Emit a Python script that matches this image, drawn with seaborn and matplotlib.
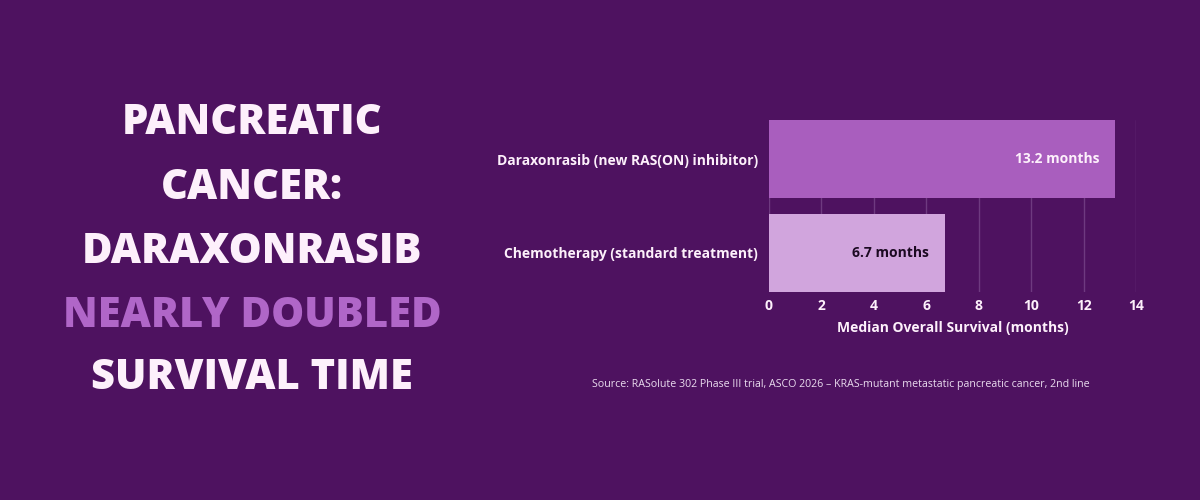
import matplotlib
matplotlib.use('Agg')
import matplotlib.pyplot as plt
import seaborn as sns
import pandas as pd

# data
treatments = ['Daraxonrasib (new RAS(ON) inhibitor)', 'Chemotherapy (standard treatment)']
survival_months = [13.2, 6.7]
value_labels = ['13.2 months', '6.7 months']
x_ticks = [0, 2, 4, 6, 8, 10, 12, 14]

bg = '#4e1260'
bar_colors = ['#a95ebe', '#d1a5dd']
label_colors = ['#fdf0fb', '#1c0a22']

sns.set_style('white')
plt.rcParams['font.family'] = ['Open Sans', 'DejaVu Sans']

df = pd.DataFrame({'treatment': treatments, 'months': survival_months})

fig = plt.figure(figsize=(12, 5), dpi=100, facecolor=bg)
ax = fig.add_axes([0.6408, 0.416, 0.3059, 0.344])
ax.set_facecolor(bg)

sns.barplot(data=df, x='months', y='treatment', hue='treatment',
            palette=bar_colors, width=0.83, ax=ax, legend=False,
            saturation=1, linewidth=0, zorder=3)

ax.set_xlim(0, 14)
ax.set_ylim(1.415, -0.415)
ax.set_xticks(x_ticks)
ax.grid(axis='x', color='#6e3a80', linewidth=1, zorder=0)
ax.grid(axis='y', visible=False)
for s in ax.spines.values():
    s.set_visible(False)

ax.tick_params(axis='x', length=0, pad=5, labelsize=10, labelcolor='#fdf0fb')
ax.tick_params(axis='y', length=0, pad=8, labelsize=10, labelcolor='#fdf0fb')
for t in ax.get_xticklabels() + ax.get_yticklabels():
    t.set_fontweight('bold')

ax.set_ylabel('')
ax.set_xlabel('Median Overall Survival (months)', color='#fdf0fb',
              fontsize=10, fontweight='bold', labelpad=6)

for i, (v, lab) in enumerate(zip(survival_months, value_labels)):
    ax.text(v - 0.6, i, lab, ha='right', va='center', fontsize=10,
            fontweight='bold', color=label_colors[i], zorder=4)

# title block on the left
title_lines = ['PANCREATIC', 'CANCER:', 'DARAXONRASIB', 'NEARLY DOUBLED', 'SURVIVAL TIME']
title_colors = ['#fdf0fb', '#fdf0fb', '#fdf0fb', '#b066c8', '#fdf0fb']
title_y = [123, 188, 252, 316, 378]
for line, c, y in zip(title_lines, title_colors, title_y):
    fig.text(252 / 1200, 1 - y / 500, line, ha='center', va='center',
             fontsize=30, fontweight='heavy', color=c)

fig.text(841 / 1200, 1 - 384 / 500,
         'Source: RASolute 302 Phase III trial, ASCO 2026 \u2013 KRAS-mutant metastatic pancreatic cancer, 2nd line',
         ha='center', va='center', fontsize=7.65, color='#eadcef')

fig.savefig('out.png', dpi=100, facecolor=bg)
